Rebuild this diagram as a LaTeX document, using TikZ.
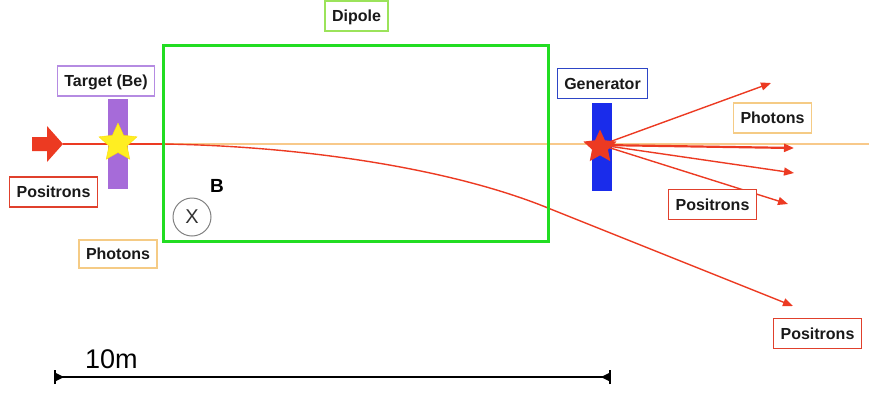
\documentclass[tikz,border=0pt]{standalone}
\usepackage{fontspec}
\setmainfont{Liberation Sans}
\usetikzlibrary{arrows.meta,shapes.geometric}

\definecolor{beamred}{HTML}{EC3A22}
\definecolor{photon}{HTML}{F8C98A}
\definecolor{targetpurple}{HTML}{A66BD9}
\definecolor{targetedge}{HTML}{B58BE2}
\definecolor{genblue}{HTML}{1A2CEB}
\definecolor{genedge}{HTML}{2D45C6}
\definecolor{dipolegreen}{HTML}{22DD22}
\definecolor{dipoleedge}{HTML}{9BE35A}
\definecolor{posedge}{HTML}{E0402C}
\definecolor{phedge}{HTML}{F5CB85}
\definecolor{staryellow}{HTML}{FFEE22}

\tikzset{
  lbl/.style={draw, line width=1.3pt, fill=white, text=black!90,
    font=\fontsize{16}{19}\selectfont\bfseries,
    inner xsep=7pt, inner ysep=0pt, minimum height=30pt,
    text height=11.5pt, text depth=0pt},
  ray/.style={beamred, line width=1.4pt, -{Triangle[length=10pt,width=8pt]}},
  bar/.style={inner sep=0pt, minimum width=20pt},
  starmark/.style={star, star points=5, star point ratio=2.1, inner sep=0pt}
}

\begin{document}
\begin{tikzpicture}[x=1pt, y=-1pt]
\useasboundingbox (0,0) rectangle (869,392);

% reference points along the beam axis
\coordinate (entry) at (163,144);
\coordinate (beamend) at (869,144);
\coordinate (exit) at (548,208);

% photon line through the dipole
\draw[photon, line width=2.2pt] (entry) -- (beamend);

% target and generator blocks
\node[bar, fill=targetpurple, minimum height=90pt] (target) at (118,144) {};
\node[bar, fill=genblue, minimum height=88pt] (gen) at (602,147) {};

% incoming positron beam
\fill[beamred] (32,137) -- (47,137) -- (47,126) -- (63,144) -- (47,162) -- (47,151) -- (32,151) -- cycle;
\coordinate (arrowtip) at (63,144);
\draw[beamred, line width=1.4pt] (arrowtip) -- (entry);

% deflected positron trajectory
\coordinate (farpos) at (793,306);
\draw[ray] (entry) .. controls (300,146) and (450,168) .. (exit) -- (farpos);

% secondary rays from the generator
\coordinate (gc) at (601,145);
\coordinate (r1) at (771,83);
\coordinate (r2) at (794,148);
\coordinate (r3) at (794,173);
\coordinate (r4) at (788,204);
\draw[ray] (gc) -- (r1);
\draw[ray, line width=2.2pt] (gc) -- (r2);
\draw[ray] (gc) -- (r3);
\draw[ray] (gc) -- (r4);

% stars marking the interaction points
\node[starmark, fill=staryellow, draw=yellow!80!orange, line width=0.4pt, minimum size=40pt] (tstar) at (118,143) {};
\node[starmark, fill=beamred, minimum size=35pt] (gstar) at (600,147) {};

% dipole magnet
\node[draw=dipolegreen, line width=3pt, minimum width=385pt, minimum height=196pt, inner sep=0pt] (dipole) at (355.5,143) {};

% field direction
\node[circle, draw=black!50, line width=1pt, minimum size=38pt, inner sep=0pt,
      font=\fontsize{20}{22}\selectfont, text=black!80] (field) at (192,217) {X};
\node[font=\fontsize{19}{21}\selectfont\bfseries, inner sep=0pt] (blabel) at (217,186) {B};

% labels
\node[lbl, draw=targetedge] (ltarget) at (106,81) {Target (Be)};
\node[lbl, draw=posedge] (lposin) at (53.5,192) {Positrons};
\node[lbl, draw=phedge, minimum height=28pt] (lphin) at (118,254) {Photons};
\node[lbl, draw=dipoleedge] (ldipole) at (356.5,16) {Dipole};
\node[lbl, draw=genedge] (lgen) at (602.5,83.5) {Generator};
\node[lbl, draw=phedge] (lphout) at (772.5,118) {Photons};
\node[lbl, draw=posedge] (lposmid) at (712.5,204.5) {Positrons};
\node[lbl, draw=posedge] (lposfar) at (817.5,333.5) {Positrons};

% scale bar
\coordinate (sl) at (55,377);
\coordinate (sr) at (610,377);
\draw[black, line width=2.6pt] (sl) -- (sr);
\draw[black, line width=1.6pt] ([yshift=-7pt]sl) -- ([yshift=7pt]sl);
\draw[black, line width=1.6pt] ([yshift=-7pt]sr) -- ([yshift=7pt]sr);
\fill[black] ([yshift=-4.5pt]sl) -- ([xshift=9pt]sl) -- ([yshift=4.5pt]sl) -- cycle;
\fill[black] ([yshift=-4.5pt]sr) -- ([xshift=-9pt]sr) -- ([yshift=4.5pt]sr) -- cycle;
\node[anchor=base west, inner sep=0pt, font=\fontsize{27}{30}\selectfont] (scale) at (85,368) {10m};
\end{tikzpicture}
\end{document}
